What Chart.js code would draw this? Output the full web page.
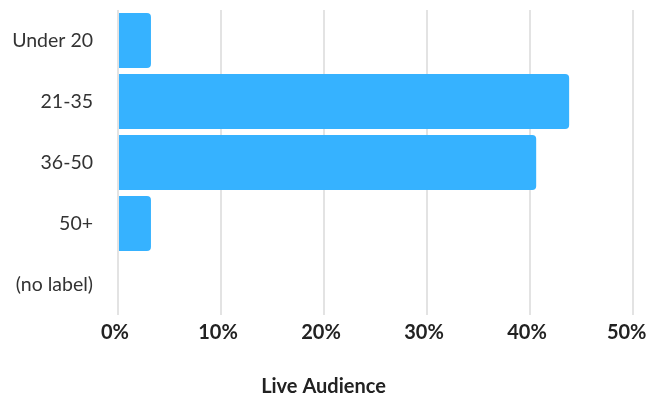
<!DOCTYPE html>
<html>
<head>
<meta charset="utf-8">
<script src="https://cdn.jsdelivr.net/npm/chart.js@4"></script>
<style>
    html, body { margin: 0; padding: 0; background: #fff; }
    #wrap { width: 647px; height: 397px; }
</style>
</head>
<body>
<div id="wrap"><canvas id="audienceChart"></canvas></div>
<script>
// Age groups and share of live audience (percent)
const ageGroups = ['Under 20', '21-35', '36-50', '50+', '(no label)'];
const audienceShare = [3.2, 43.8, 40.6, 3.2, 0];
const xTicks = [0, 10, 20, 30, 40, 50];

const barColor = 'rgb(54, 178, 255)';
const fontFamily = 'Lato, "Open Sans", sans-serif';

const ctx = document.getElementById('audienceChart').getContext('2d');

new Chart(ctx, {
    type: 'bar',
    data: {
        labels: ageGroups,
        datasets: [{
            data: audienceShare,
            backgroundColor: barColor,
            borderRadius: { topRight: 4, bottomRight: 4 },
            borderSkipped: 'start',
            barPercentage: 0.9,
            categoryPercentage: 1
        }]
    },
    options: {
        indexAxis: 'y',
        responsive: true,
        maintainAspectRatio: false,
        animation: false,
        layout: { padding: { top: 10 } },
        scales: {
            x: {
                min: xTicks[0],
                max: xTicks[xTicks.length - 1],
                border: { display: false },
                grid: { color: '#e3e3e3', lineWidth: 2, drawTicks: false },
                ticks: {
                    stepSize: 10,
                    padding: 6,
                    labelOffset: -3,
                    color: '#222',
                    font: { family: fontFamily, size: 20, weight: 'bold' },
                    // trailing space nudges the last label inside the canvas edge
                    callback: (v, i, ticks) => i === ticks.length - 1 ? v + '%\u2004' : v + '%'
                },
                afterFit: scale => {
                    scale.height = 47;
                    scale.paddingRight = 14;
                }
            },
            y: {
                border: { display: false },
                grid: { display: false, drawTicks: false },
                ticks: {
                    padding: 25,
                    color: '#333',
                    font: { family: fontFamily, size: 19.5 }
                },
                afterFit: scale => {
                    // keep the plot area pinned; labels sit in the fixed left band
                    scale.width = 118;
                    scale.paddingTop = 0;
                    scale.paddingBottom = 0;
                }
            }
        },
        plugins: {
            legend: { display: false },
            tooltip: { enabled: false },
            title: {
                display: true,
                text: 'Live Audience',
                position: 'bottom',
                color: '#222',
                padding: { top: 15, bottom: 0 },
                font: { family: fontFamily, size: 20, weight: 'bold', lineHeight: 1 }
            }
        }
    }
});
</script>
</body>
</html>
